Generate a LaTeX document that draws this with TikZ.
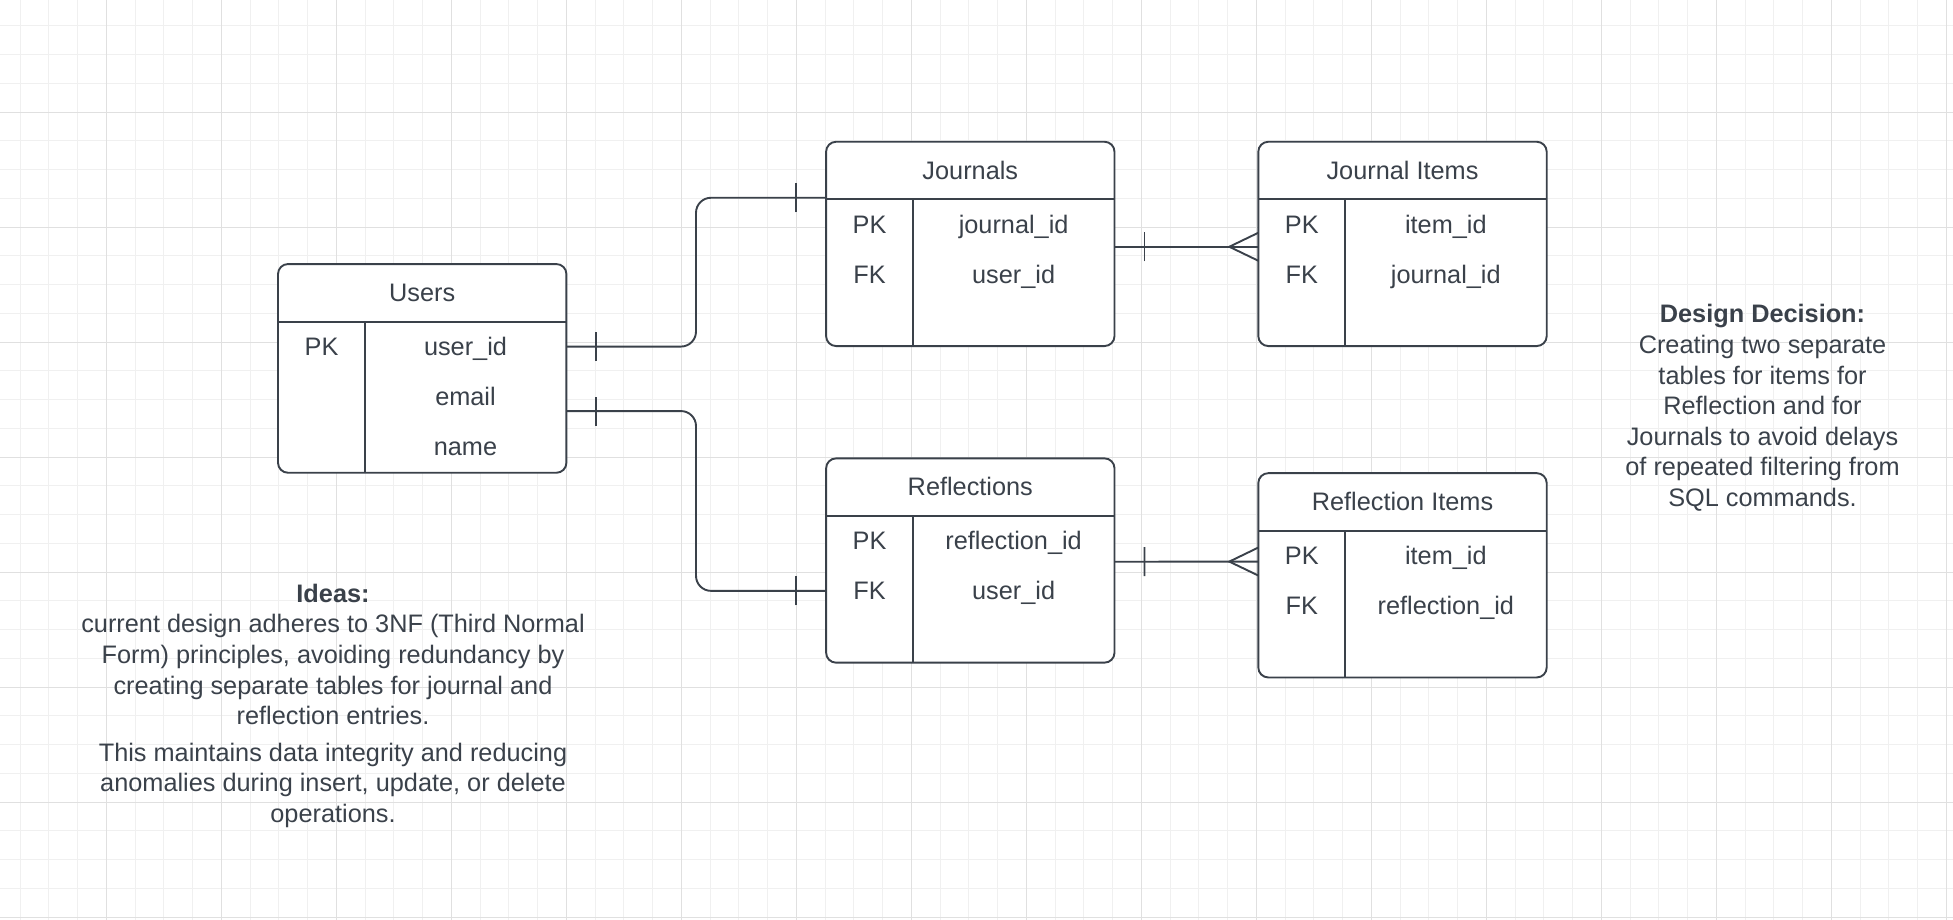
\documentclass[tikz,border=0pt]{standalone}
\usepackage{fontspec}
\setmainfont{Liberation Sans}
\usepackage{tikz}
\usetikzlibrary{positioning,decorations.markings}
\definecolor{ink}{HTML}{3A414A}
\tikzset{
    entity/.style={
           rectangle, rounded corners=10pt,
           draw=ink, line width=1.9pt, fill=white,
           minimum width=288.4pt,
           minimum height=204.3pt,
           inner sep=0pt, outer sep=0pt,
           path picture={
               \draw[ink, line width=1.9pt] ([yshift=-57.5pt]path picture bounding box.north west) -- ([yshift=-57.5pt]path picture bounding box.north east);
               \draw[ink, line width=1.9pt] ([shift={(87pt,-57.5pt)}]path picture bounding box.north west) -- ([xshift=87pt]path picture bounding box.south west);
               }
           },
    cell/.style={
           text=ink, inner sep=0pt,
           text height=18pt, text depth=0pt,
           font=\fontsize{25.3}{30.6}\selectfont
           },
    note/.style={
           text=ink, inner sep=0pt, anchor=north,
           align=center,
           font=\fontsize{25.3}{30.6}\selectfont
           },
    rel/.style={
           draw=ink, line width=1.9pt, rounded corners=15pt
           },
    one start/.style={postaction={decorate, decoration={markings,
           mark=at position 30pt with {\draw[ink, line width=1.9pt, sharp corners] (0pt,-14.5pt) -- (0pt,14.5pt);}}}},
    one end/.style={postaction={decorate, decoration={markings,
           mark=at position -30pt with {\draw[ink, line width=1.9pt, sharp corners] (0pt,-14.5pt) -- (0pt,14.5pt);}}}},
    many end/.style={postaction={decorate, decoration={markings,
           mark=at position -29pt with {\draw[ink, line width=1.9pt, sharp corners] (29pt,14pt) -- (0pt,0pt) -- (29pt,-14pt);}}}},
    minor grid/.style={step=28.75, draw=black!6, line width=1pt},
    major grid/.style={step=115, draw=black!12, line width=1.1pt}
}

\begin{document}
\begin{tikzpicture}[x=1pt, y=1pt, on grid]
   \useasboundingbox (0,0) rectangle (1953,-919);
   % background grid
   \begin{scope}
     \clip (0,0) rectangle (1953,-919);
     \draw[minor grid, shift={(20,-25.8)}] (-60,60) grid (1960,-940);
     \draw[major grid, shift={(106.3,-112.3)}] (-230,230) grid (1960,-940);
   \end{scope}

   % tables
   \node[entity, minimum height=208.7pt] (users) at (422.2,-368.4) {};
   \node[entity] (journals) [above right=124.5pt and 548.1pt of users] {};
   \node[entity] (jitems) [right=432.2pt of journals] {};
   \node[entity] (reflections) [below=316.6pt of journals] {};
   \node[entity] (ritems) [below=331.4pt of jitems] {};

   \node[cell] (users title) [above=76pt of users] {Users};
   \node[cell] (users pk) [above left=21.85pt and 100.7pt of users] {PK};
   \node[cell] (users uid) [right=144pt of users pk] {user\_id};
   \node[cell] (users email) [below=50pt of users uid] {email};
   \node[cell] (users name) [below=50pt of users email] {name};

   \node[cell] (journals title) [above=73.8pt of journals] {Journals};
   \node[cell] (journals pk) [above left=19.65pt and 100.7pt of journals] {PK};
   \node[cell] (journals fk) [below=50pt of journals pk] {FK};
   \node[cell] (journals jid) [right=144pt of journals pk] {journal\_id};
   \node[cell] (journals uid) [right=144pt of journals fk] {user\_id};

   \node[cell] (jitems title) [above=73.8pt of jitems] {Journal Items};
   \node[cell] (jitems pk) [above left=19.65pt and 100.7pt of jitems] {PK};
   \node[cell] (jitems fk) [below=50pt of jitems pk] {FK};
   \node[cell] (jitems iid) [right=144pt of jitems pk] {item\_id};
   \node[cell] (jitems jid) [right=144pt of jitems fk] {journal\_id};

   \node[cell] (reflections title) [above=73.8pt of reflections] {Reflections};
   \node[cell] (reflections pk) [above left=19.65pt and 100.7pt of reflections] {PK};
   \node[cell] (reflections fk) [below=50pt of reflections pk] {FK};
   \node[cell] (reflections rid) [right=144pt of reflections pk] {reflection\_id};
   \node[cell] (reflections uid) [right=144pt of reflections fk] {user\_id};

   \node[cell] (ritems title) [above=73.8pt of ritems] {Reflection Items};
   \node[cell] (ritems pk) [above left=19.65pt and 100.7pt of ritems] {PK};
   \node[cell] (ritems fk) [below=50pt of ritems pk] {FK};
   \node[cell] (ritems iid) [right=144pt of ritems pk] {item\_id};
   \node[cell] (ritems rid) [right=144pt of ritems fk] {reflection\_id};

   % relations
   \draw[rel, one start, one end] (users uid -| users.east) -- ++(129.6,0) |- ([yshift=-56pt]journals.north west);
   \draw[rel, one start, one end] ([yshift=-147pt]users.north east) -- ++(129.6,0) |- (reflections fk -| reflections.west);
   \draw[rel, one start, many end] ([yshift=-105pt]journals.north east) -- ([yshift=-105pt]jitems.north west);
   \draw[rel, one start, many end] ([yshift=-103.4pt]reflections.north east) -- ([yshift=-88.4pt]ritems.north west);

   % notes
   \node[note] (ideas) at (333,-583.7) {\textbf{Ideas:}\\current design adheres to 3NF (Third Normal\\Form) principles, avoiding redundancy by\\creating separate tables for journal and\\reflection entries.\\[6pt]This maintains data integrity and reducing\\anomalies during insert, update, or delete\\operations.};
   \node[note] (decision) at (1762.5,-304.3) {\textbf{Design Decision:}\\Creating two separate\\tables for items for\\Reflection and for\\Journals to avoid delays\\of repeated filtering from\\SQL commands.};
\end{tikzpicture}
\end{document}
